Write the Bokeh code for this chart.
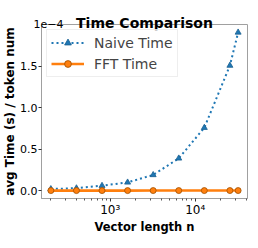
import math
from bokeh.plotting import figure
from bokeh.models import (FixedTicker, Legend, LegendItem, Label, Range1d,
                          NumeralTickFormatter)
from bokeh.embed import file_html
from bokeh.resources import INLINE

# ---- data ----
vector_length = [200, 400, 800, 1600, 3200, 6400, 12800, 25600, 32000]
naive_time = [2.0e-6, 3.0e-6, 6.0e-6, 1.0e-5, 1.9e-5, 3.9e-5, 7.6e-5, 1.51e-4, 1.91e-4]
fft_time = [1.0e-7, 1.0e-7, 1.0e-7, 1.0e-7, 1.2e-7, 1.2e-7, 1.3e-7, 1.4e-7, 1.5e-7]
scale = 1e-4
title_text = "Time Comparison"
offset_text = "1e−4"
x_major_ticks = [1000, 10000]
x_tick_labels = {1000: "10³", 10000: "10⁴"}
x_minor_ticks = [200, 300, 400, 500, 600, 700, 800, 900,
                 2000, 3000, 4000, 5000, 6000, 7000, 8000, 9000,
                 20000, 30000, 40000]
y_ticks = [0.0, 0.5, 1.0, 1.5]

naive_s = [v / scale for v in naive_time]
fft_s = [v / scale for v in fft_time]

# matplotlib-like 5% margins
lx0, lx1 = math.log10(min(vector_length)), math.log10(max(vector_length))
mx = 0.05 * (lx1 - lx0)
x0, x1 = 10 ** (lx0 - mx), 10 ** (lx1 + mx)
ally = naive_s + fft_s
y_lo, y_hi = min(ally), max(ally)
my = 0.05 * (y_hi - y_lo)
y0, y1 = y_lo - my, y_hi + my

BLUE = "#1f77b4"
ORANGE = "#ff7f0e"
FONT = "DejaVu Sans"

p = figure(width=250, height=240, x_axis_type="log",
           x_range=Range1d(x0, x1), y_range=Range1d(y0, y1),
           output_backend="svg", toolbar_location=None,
           min_border_left=0, min_border_right=3, min_border_top=22,
           min_border_bottom=42)
p.title = None

p.xgrid.visible = False
p.ygrid.visible = False
p.outline_line_color = "#a0a0a0"
p.outline_line_width = 1

for ax in (p.xaxis[0], p.yaxis[0]):
    ax.axis_line_color = "#a0a0a0"
    ax.major_tick_line_color = "#333333"
    ax.minor_tick_line_color = "#555555"
    ax.major_tick_in = 0
    ax.major_tick_out = 3
    ax.minor_tick_in = 0
    ax.minor_tick_out = 2
    ax.major_label_text_font = FONT
    ax.major_label_text_font_size = "11px"
    ax.major_label_text_color = "black"
    ax.axis_label_text_font = FONT
    ax.axis_label_text_font_size = "12px"
    ax.axis_label_text_font_style = "bold"
    ax.axis_label_text_color = "black"
    ax.major_label_standoff = 1
    ax.axis_label_standoff = 0

p.xaxis.ticker = FixedTicker(ticks=x_major_ticks, minor_ticks=x_minor_ticks)
p.xaxis.major_label_overrides = x_tick_labels
p.xaxis.major_label_text_font_size = "12px"
p.xaxis.axis_label = "Vector length n"
p.xaxis.axis_label_text_font_size = "11.5px"

p.yaxis.ticker = FixedTicker(ticks=y_ticks)
p.yaxis.formatter = NumeralTickFormatter(format="0.0")
p.yaxis.minor_tick_line_color = None
p.yaxis.axis_label = "avg Time (s) / token num"

r1 = p.line(vector_length, naive_s, line_color=BLUE, line_width=2,
            line_dash="2 3")
m1 = p.scatter(vector_length, naive_s, marker="triangle", size=6,
               fill_color=BLUE, line_color="#1a5f8f", line_width=0.8)
r2 = p.line(vector_length, fft_s, line_color=ORANGE, line_width=2.6)
m2 = p.scatter(vector_length, fft_s, marker="circle", size=6,
               fill_color=ORANGE, line_color="#a04f00", line_width=0.8)

legend = Legend(items=[LegendItem(label="Naive Time", renderers=[r1, m1]),
                       LegendItem(label="FFT Time", renderers=[r2, m2])],
                location="top_left")
legend.label_text_font = FONT
legend.label_text_font_size = "14px"
legend.glyph_width = 33
legend.glyph_height = 17
legend.label_height = 17
legend.label_standoff = 10
legend.spacing = 4
legend.padding = 4
legend.margin = 5
legend.border_line_color = "#dddddd"
legend.border_line_width = 1
legend.background_fill_alpha = 0.8
p.add_layout(legend)

# offset text first (closest to the frame), then the title
p.add_layout(Label(x=x0, y=-3, x_offset=-8, text=offset_text, x_units="data",
                   y_units="screen", text_align="left",
                   text_baseline="bottom", text_font=FONT,
                   text_font_size="11px", text_color="black"), "above")
x_mid = math.sqrt(x0 * x1)
p.add_layout(Label(x=x_mid, y=-14, text=title_text, x_units="data",
                   y_units="screen", text_align="center",
                   text_baseline="bottom", text_font=FONT,
                   text_font_size="14px", text_font_style="bold",
                   text_color="black"), "above")

open("out.html", "w").write(file_html(p, INLINE))
